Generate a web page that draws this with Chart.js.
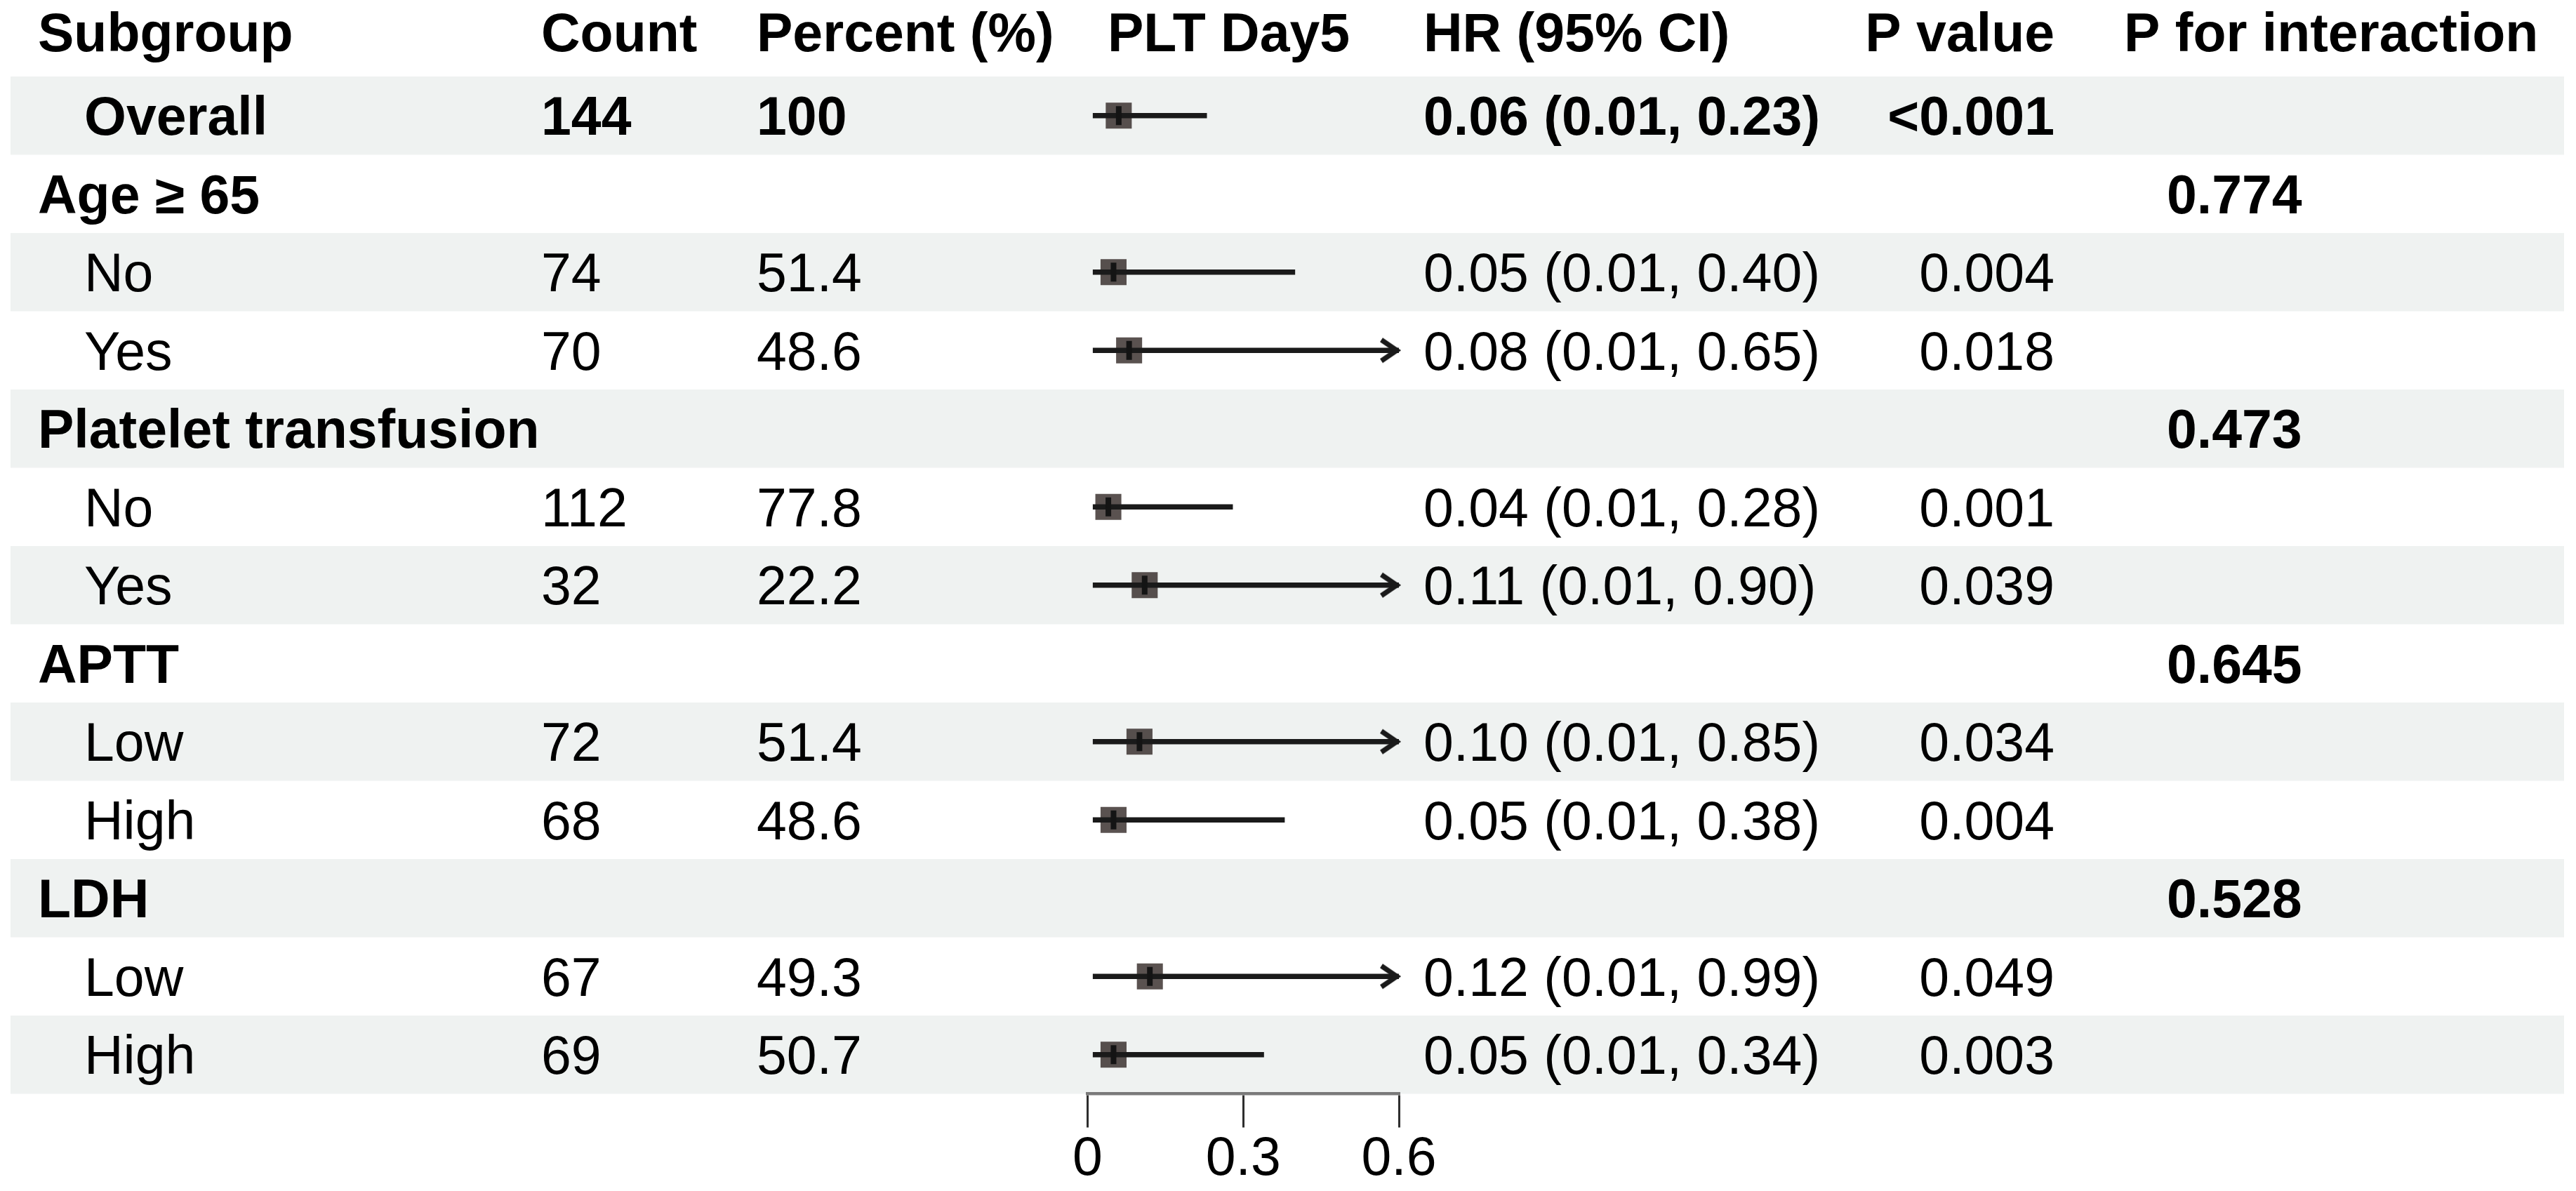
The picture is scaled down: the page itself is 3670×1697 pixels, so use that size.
<!DOCTYPE html>
<html lang="en">
<head>
    <meta charset="UTF-8">
    <title>PLT Day5 subgroup forest plot</title>
    <script src="https://cdn.jsdelivr.net/npm/chart.js"></script>
    <style>
        html, body { margin: 0; padding: 0; background: #fff; }
        #wrap { width: 3670px; height: 1697px; }
    </style>
</head>
<body>
    <div id="wrap">
        <canvas id="forestChart" width="3670" height="1697"></canvas>
    </div>

    <script>
        // table data, one entry per row (top to bottom)
        const subgroups = ['Overall', 'Age \u2265 65', 'No', 'Yes', 'Platelet transfusion', 'No', 'Yes', 'APTT', 'Low', 'High', 'LDH', 'Low', 'High'];
        const isGroup   = [false, true, false, false, true, false, false, true, false, false, true, false, false];
        const counts    = ['144', '', '74', '70', '', '112', '32', '', '72', '68', '', '67', '69'];
        const percents  = ['100', '', '51.4', '48.6', '', '77.8', '22.2', '', '51.4', '48.6', '', '49.3', '50.7'];
        const hr        = [0.06, null, 0.05, 0.08, null, 0.04, 0.11, null, 0.10, 0.05, null, 0.12, 0.05];
        const hrLow     = [0.01, null, 0.01, 0.01, null, 0.01, 0.01, null, 0.01, 0.01, null, 0.01, 0.01];
        const hrHigh    = [0.23, null, 0.40, 0.65, null, 0.28, 0.90, null, 0.85, 0.38, null, 0.99, 0.34];
        const pValues   = ['<0.001', '', '0.004', '0.018', '', '0.001', '0.039', '', '0.034', '0.004', '', '0.049', '0.003'];
        const pInteract = ['', '0.774', '', '', '0.473', '', '', '0.645', '', '', '0.528', '', ''];
        const headers   = ['Subgroup', 'Count', 'Percent (%)', 'PLT Day5', 'HR (95% CI)', 'P value', 'P for interaction'];
        const xTicks    = [0, 0.3, 0.6];
        const xMax      = 0.6;

        const FONT = '"Liberation Sans", Arial, sans-serif';
        const FS = 77;

        // CI segments, broken with null points between rows
        const ciData = [];
        const boxData = [];
        const arrowData = [];
        hr.forEach((v, i) => {
            if (v === null) return;
            ciData.push({ x: hrLow[i], y: i });
            ciData.push({ x: Math.min(hrHigh[i], xMax), y: i });
            ciData.push({ x: hrLow[i], y: null });
            boxData.push({ x: v, y: i });
            if (hrHigh[i] > xMax) arrowData.push({ x: xMax, y: i });
        });

        // open arrow head, tip sits at the centre of the image
        const arrowImg = document.createElement('canvas');
        arrowImg.width = 80; arrowImg.height = 50;
        (function () {
            const a = arrowImg.getContext('2d');
            a.strokeStyle = '#1a1a1a';
            a.lineWidth = 7;
            a.lineJoin = 'miter';
            a.lineCap = 'butt';
            a.beginPath();
            a.moveTo(40 - 25, 25 - 15);
            a.lineTo(37, 25);
            a.lineTo(40 - 25, 25 + 15);
            a.stroke();
        })();

        // row bands and all table text
        const tablePlugin = {
            id: 'tablePlugin',
            beforeDraw(chart) {
                const ctx = chart.ctx;
                const y = chart.scales.y;
                ctx.save();
                ctx.fillStyle = '#ffffff';
                ctx.fillRect(0, 0, chart.width, chart.height);
                subgroups.forEach((s, i) => {
                    if (i % 2 !== 0) return;
                    const top = y.getPixelForValue(i - 0.5);
                    const bot = y.getPixelForValue(i + 0.5);
                    ctx.fillStyle = '#eff2f1';
                    ctx.fillRect(15, top, 3653 - 15, bot - top);
                });
                ctx.restore();
            },
            afterDraw(chart) {
                const ctx = chart.ctx;
                const y = chart.scales.y;
                const capHalf = FS * 0.716 / 2;
                ctx.save();
                ctx.fillStyle = '#000';
                ctx.textBaseline = 'alphabetic';

                // header
                const hy = y.getPixelForValue(-1.07) + capHalf;
                ctx.font = 'bold ' + FS + 'px ' + FONT;
                ctx.textAlign = 'left';
                ctx.fillText(headers[0], 54, hy);
                ctx.fillText(headers[1], 771, hy);
                ctx.fillText(headers[2], 1078, hy);
                ctx.fillText(headers[3], 1578, hy);
                ctx.fillText(headers[4], 2028, hy);
                ctx.textAlign = 'right';
                ctx.fillText(headers[5], 2927, hy);
                ctx.textAlign = 'left';
                ctx.fillText(headers[6], 3026, hy);

                subgroups.forEach((s, i) => {
                    const by = y.getPixelForValue(i) + capHalf;
                    const bold = isGroup[i] || i === 0;
                    ctx.font = (bold ? 'bold ' : '') + FS + 'px ' + FONT;
                    ctx.textAlign = 'left';
                    ctx.fillText(s, isGroup[i] ? 54 : 120, by);
                    ctx.fillText(counts[i], 771, by);
                    ctx.fillText(percents[i], 1078, by);
                    if (hr[i] !== null) {
                        const txt = hr[i].toFixed(2) + ' (' + hrLow[i].toFixed(2) + ', ' + hrHigh[i].toFixed(2) + ')';
                        ctx.fillText(txt, 2028, by);
                    }
                    ctx.textAlign = 'right';
                    ctx.fillText(pValues[i], 2927, by);
                    ctx.textAlign = 'left';
                    if (pInteract[i]) {
                        ctx.font = 'bold ' + FS + 'px ' + FONT;
                        ctx.fillText(pInteract[i], 3087, by);
                    }
                });
                ctx.restore();
            }
        };

        const ctxForest = document.getElementById('forestChart').getContext('2d');
        const forestChart = new Chart(ctxForest, {
            type: 'scatter',
            data: {
                datasets: [
                    {
                        // tick inside each box
                        data: boxData,
                        pointStyle: 'line',
                        rotation: 90,
                        pointRadius: 13.5,
                        borderWidth: 8,
                        borderColor: '#141414',
                        order: 1
                    },
                    {
                        data: arrowData,
                        pointStyle: arrowImg,
                        pointRadius: 20,
                        clip: false,
                        order: 1
                    },
                    {
                        type: 'line',
                        data: ciData,
                        borderColor: '#1a1a1a',
                        borderWidth: 7.5,
                        borderCapStyle: 'butt',
                        pointRadius: 0,
                        spanGaps: false,
                        clip: false,
                        order: 2
                    },
                    {
                        data: boxData,
                        pointStyle: 'rect',
                        pointRadius: 26.2,
                        backgroundColor: 'rgba(38, 28, 25, 0.76)',
                        borderWidth: 0,
                        clip: false,
                        order: 3
                    }
                ]
            },
            options: {
                responsive: false,
                animation: false,
                devicePixelRatio: 1,
                events: [],
                layout: { padding: { left: 1549.5, right: 1677, top: 109, bottom: 0 } },
                plugins: {
                    legend: { display: false },
                    tooltip: { enabled: false }
                },
                scales: {
                    x: {
                        type: 'linear',
                        position: 'bottom',
                        min: 0,
                        max: xMax,
                        afterBuildTicks: scale => { scale.ticks = xTicks.map(v => ({ value: v })); },
                        afterFit: scale => { scale.height = 138.5; },
                        grid: {
                            drawOnChartArea: false,
                            drawTicks: true,
                            tickLength: 48,
                            color: '#2e2e2e',
                            lineWidth: 3
                        },
                        border: { display: true, color: '#7a7a7a', width: 4.5 },
                        ticks: {
                            padding: 0,
                            color: '#000',
                            font: { family: FONT, size: FS },
                            callback: v => String(v)
                        }
                    },
                    y: {
                        type: 'linear',
                        min: -0.5,
                        max: 12.5,
                        reverse: true,
                        display: false
                    }
                }
            },
            plugins: [tablePlugin]
        });
    </script>
</body>
</html>
